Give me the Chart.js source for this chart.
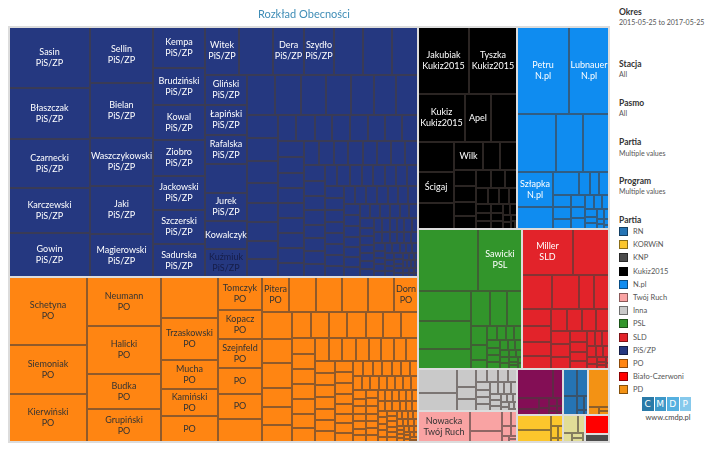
<!DOCTYPE html>
<html>
<head>
<meta charset="utf-8">
<script src="https://cdn.jsdelivr.net/npm/chart.js@4.4.1/dist/chart.umd.min.js"></script>
<style>
  html, body { margin: 0; padding: 0; background: #fff; }
  body { width: 720px; height: 450px; overflow: hidden; position: relative; font-family: Lato, "Open Sans", sans-serif; }
  #tree { position: absolute; left: 0; top: 0; }
  #title { position: absolute; left: 204px; width: 200px; top: 7px; text-align: center; font-size: 11px; color: #3f8db6; }
  .side { position: absolute; left: 619px; line-height: 10px; white-space: nowrap; }
  .hd { font-weight: bold; font-size: 8.5px; color: #333; }
  .vl { font-size: 7px; color: #555; }
  #legend { position: absolute; left: 619px; top: 225px; }
  .lg { height: 13.2px; display: flex; align-items: center; font-size: 7.5px; color: #555; }
  .sw { width: 7px; height: 7px; border: 1px solid rgba(0,0,0,0.45); margin-right: 5px; }
  #logo { position: absolute; left: 642px; top: 397px; display: flex; }
  #logo span { width: 11.5px; height: 14px; margin-right: 1px; color: #fff; font-size: 9px; text-align: center; line-height: 14px; font-family: "DejaVu Sans", sans-serif; }
  #url { position: absolute; left: 642px; width: 52px; top: 413px; text-align: center; font-size: 7.5px; color: #444; }
</style>
</head>
<body>
<canvas id="tree" width="615" height="450"></canvas>
<div id="title">Rozkład Obecności</div>

<div class="side hd" style="top:7px">Okres</div>
<div class="side vl" style="top:17px">2015-05-25 to 2017-05-25</div>
<div class="side hd" style="top:59px">Stacja</div>
<div class="side vl" style="top:69px">All</div>
<div class="side hd" style="top:98px">Pasmo</div>
<div class="side vl" style="top:108px">All</div>
<div class="side hd" style="top:137px">Partia</div>
<div class="side vl" style="top:148px">Multiple values</div>
<div class="side hd" style="top:176px">Program</div>
<div class="side vl" style="top:186px">Multiple values</div>
<div class="side hd" style="top:215px">Partia</div>
<div id="legend"></div>
<div id="logo"><span style="background:#2a7aa8">C</span><span style="background:#3d98c9">M</span><span style="background:#55b0e0">D</span><span style="background:#86c9ec">P</span></div>
<div id="url">www.cmdp.pl</div>

<script>
(function () {
  "use strict";

  /* ── Data ──────────────────────────────────── */

  var pisValues = [494, 413, 397, 365, 352, 351, 347, 302, 296, 271,
    212, 192, 184, 183, 178, 177, 169, 164, 163, 145, 144, 142, 134, 128,
    127, 126, 124, 122, 120, 118, 116, 110, 104, 100, 98, 92, 90, 88,
    72, 72, 66, 62, 59, 57, 56, 56, 48, 47, 46, 46, 45, 44, 44, 43,
    42, 41, 40, 40, 39, 39, 38, 38, 37, 37, 36, 36, 35, 35, 34, 34, 33, 33,
    32, 31, 30, 29, 28, 27, 27, 26, 26, 25, 25, 24, 24, 24, 23, 23, 22, 22, 22,
    21, 21, 21, 20, 20, 19, 19, 19, 18, 18, 18, 17, 17, 17, 16, 16, 16, 15, 15, 15,
    14, 14, 14, 13, 13, 12, 12, 12, 12, 11, 11, 11, 10, 10, 10, 10, 9, 9, 9, 9,
    8, 8, 8, 8, 8, 7, 7, 7, 7, 7, 6, 6, 6, 6, 5, 5, 5, 5, 5, 4, 4, 4, 4, 4,
    3, 3, 3, 3, 3, 3, 2, 2, 2, 2, 2];
  var pisLabels = ["Sasin\nPiS/ZP", "Błaszczak\nPiS/ZP", "Czarnecki\nPiS/ZP", "Karczewski\nPiS/ZP",
    "Gowin\nPiS/ZP", "Sellin\nPiS/ZP", "Bielan\nPiS/ZP", "Waszczykowski\nPiS/ZP", "Jaki\nPiS/ZP",
    "Magierowski\nPiS/ZP", "Kempa\nPiS/ZP", "Brudziński\nPiS/ZP", "Kowal\nPiS/ZP", "Ziobro\nPiS/ZP",
    "Jackowski\nPiS/ZP", "Szczerski\nPiS/ZP", "Sadurska\nPiS/ZP", "Witek\nPiS/ZP", "",
    "Dera\nPiS/ZP", "Szydło\nPiS/ZP", "", "", "", "Gliński\nPiS/ZP", "Łapiński\nPiS/ZP",
    "Rafalska\nPiS/ZP", "", "Jurek\nPiS/ZP", "Kowalczyk", "Kuźmiuk\nPiS/ZP"];

  var poValues = [530, 374, 374, 368, 352, 262, 248, 236, 236, 165, 154, 146,
    145, 128, 123, 114, 110, 101, 97, 94, 93, 93, 92, 86,
    80, 76, 74, 58, 55, 53, 48, 48, 47, 47, 46, 46, 45,
    36, 35, 34, 34, 33, 33, 32, 31, 30, 30, 29, 29, 28, 28, 27,
    24, 24, 23, 23, 22, 22, 22, 20, 19, 19, 18, 18, 17, 17, 16,
    15, 15, 14, 14, 14, 13, 13, 13, 12, 12, 12, 12, 11, 11, 11, 11, 10, 10, 10, 10,
    9, 9, 9, 9, 9, 9, 8, 8, 8, 8, 8, 8, 7, 7, 7, 7, 7, 7, 6, 6, 6, 6, 6, 6, 6,
    5, 5, 5, 5, 5, 5, 5, 4, 4, 4, 4, 4, 4, 4, 3, 3, 3, 3, 3, 3, 3, 3,
    2, 2, 2, 2, 2, 2, 2];
  var poLabels = ["Schetyna\nPO", "Siemoniak\nPO", "Kierwiński\nPO", "Neumann\nPO", "Halicki\nPO",
    "Budka\nPO", "Grupiński\nPO", "", "Trzaskowski\nPO", "Mucha\nPO", "Kamiński\nPO", "PO",
    "Tomczyk\nPO", "Kopacz\nPO", "Szejnfeld\nPO", "PO", "PO", "", "Pitera\nPO", "", "", "", "", "Dorn\nPO"];

  var kukizValues = [338, 324, 220, 127, 122, 110, 109, 94, 81, 49, 48, 36, 34, 31, 29,
    26, 24, 22, 20, 18, 16, 14, 13, 12, 11, 10, 9, 9, 8, 7, 6, 5, 4, 3, 2];
  var kukizLabels = ["Jakubiak\nKukiz2015", "Tyszka\nKukiz2015", "Kukiz\nKukiz2015", "Apel", "", "", "Ścigaj", "", "Wilk"];

  var nplValues = [454, 347, 224, 159, 148, 124, 80, 59, 25, 22, 22, 21, 21, 18, 16,
    15, 14, 12, 11, 10, 9, 8, 7, 6, 5, 4, 3, 3, 2];
  var nplLabels = ["Petru\nN.pl", "Lubnauer\nN.pl", "", "", "", "Szłapka\nN.pl"];

  var pslValues = [365, 271, 160, 144, 105, 70, 59, 53, 31, 25, 15, 13,
    12, 11, 10, 10, 9, 9, 8, 8, 7, 7, 6, 6, 5, 5, 4, 4, 3, 3, 2, 2];
  var pslLabels = ["", "Sawicki\nPSL"];

  var sldValues = [240, 168, 102, 92, 50, 49, 48, 47, 40, 38, 36, 32, 30, 28, 26, 24, 23,
    20, 18, 16, 14, 12, 11, 10, 9, 8, 7, 6, 5, 4, 3, 3, 2, 2];
  var sldLabels = ["Miller\nSLD"];

  var innaValues = [92, 70, 34, 24, 23, 15, 14, 13, 12, 11, 10, 10, 9, 9, 8, 8, 7, 7, 6, 6, 5, 5, 4, 4, 3, 3, 2, 2];
  var ruchValues = [159, 63, 36, 14, 10, 8, 6, 5, 3, 2];
  var ruchLabels = ["Nowacka\nTwój Ruch"];
  var razemValues = [105, 28, 23, 14, 10, 8, 6, 5, 4, 3, 3, 2];
  var korwinValues = [50, 41, 12, 8, 5, 3, 2];
  var rnValues = [40, 30, 27, 9, 6, 3, 2];
  var pdValues = [80, 8, 4, 3];
  var otherValues = [28, 14, 8, 6, 4, 2];
  var bcValues = [46];
  var knpValues = [19];

  var legendNames = ["RN", "KORWiN", "KNP", "Kukiz2015", "N.pl", "Twój Ruch", "Inna",
    "PSL", "SLD", "PiS/ZP", "PO", "Biało-Czerwoni", "PD"];

  var COLORS = {
    "RN": "#2574b4", "KORWiN": "#fcc62c", "KNP": "#4b4b4b", "Kukiz2015": "#000000",
    "N.pl": "#0f8cf0", "Twój Ruch": "#f9a3a3", "Inna": "#c9c9c9", "PSL": "#32952b",
    "SLD": "#e2232a", "PiS/ZP": "#253880", "PO": "#ff8512", "Biało-Czerwoni": "#ff0000",
    "PD": "#f39214", "Razem": "#830e55", "Pozostali": "#e1dd97"
  };
  var DARK_TEXT = { "PO": 1, "Twój Ruch": 1, "Inna": 1, "KORWiN": 1, "PD": 1, "Pozostali": 1 };

  var parties = [
    { name: "PiS/ZP", values: pisValues, labels: pisLabels },
    { name: "PO", values: poValues, labels: poLabels },
    { name: "Kukiz2015", values: kukizValues, labels: kukizLabels },
    { name: "N.pl", values: nplValues, labels: nplLabels },
    { name: "PSL", values: pslValues, labels: pslLabels },
    { name: "SLD", values: sldValues, labels: sldLabels },
    { name: "Inna", values: innaValues, labels: [] },
    { name: "Twój Ruch", values: ruchValues, labels: ruchLabels },
    { name: "Razem", values: razemValues, labels: [] },
    { name: "KORWiN", values: korwinValues, labels: [] },
    { name: "RN", values: rnValues, labels: [] },
    { name: "PD", values: pdValues, labels: [] },
    { name: "Pozostali", values: otherValues, labels: [] },
    { name: "Biało-Czerwoni", values: bcValues, labels: [] },
    { name: "KNP", values: knpValues, labels: [] }
  ];

  var TREE_W = 600, TREE_H = 415;
  var PHI = (1 + Math.sqrt(5)) / 2;

  /* ── Squarified layout (golden ratio) ──────── */

  function squarify(items, x0, y0, x1, y1) {
    var out = [], n = items.length, i0 = 0;
    var value = 0;
    items.forEach(function (it) { value += it.v; });
    while (i0 < n) {
      var dx = x1 - x0, dy = y1 - y0;
      var i1 = i0, sum = items[i1++].v, minV = sum, maxV = sum;
      var alpha = Math.max(dy / dx, dx / dy) / (value * PHI);
      var beta = sum * sum * alpha;
      var minRatio = Math.max(maxV / beta, beta / minV);
      for (; i1 < n; i1++) {
        var v = items[i1].v;
        sum += v;
        if (v < minV) minV = v;
        if (v > maxV) maxV = v;
        beta = sum * sum * alpha;
        var r = Math.max(maxV / beta, beta / minV);
        if (r > minRatio) { sum -= v; break; }
        minRatio = r;
      }
      var row = items.slice(i0, i1);
      if (dx < dy) {
        var yb = i1 >= n ? y1 : y0 + dy * sum / value, x = x0;
        row.forEach(function (it) {
          var w = dx * it.v / sum;
          out.push({ it: it, x0: x, y0: y0, x1: x + w, y1: yb });
          x += w;
        });
        y0 = yb;
      } else {
        var xb = i1 >= n ? x1 : x0 + dx * sum / value, y = y0;
        row.forEach(function (it) {
          var h = dy * it.v / sum;
          out.push({ it: it, x0: x0, y0: y, x1: xb, y1: y + h });
          y += h;
        });
        x0 = xb;
      }
      value -= sum;
      i0 = i1;
    }
    return out;
  }

  function byValue(a, b) { return b.v - a.v; }

  /* ── Treemap plugin ────────────────────────── */

  var treemapPlugin = {
    id: "treemapCells",
    afterDatasetsDraw: function (chart) {
      var ctx = chart.ctx, xs = chart.scales.x, ys = chart.scales.y;
      function px(v) { return Math.round(xs.getPixelForValue(v)); }
      function py(v) { return Math.round(ys.getPixelForValue(v)); }

      var groups = parties.map(function (p) {
        var total = 0;
        var kids = p.values.map(function (v, i) {
          total += v;
          return { v: v, label: p.labels[i] || "", idx: i };
        }).sort(byValue);
        return { v: total, party: p, kids: kids };
      }).sort(byValue);

      var top = squarify(groups, xs.min, ys.min, xs.max, ys.max);

      ctx.save();
      var labels = [];
      top.forEach(function (g) {
        var party = g.it.party;
        var color = COLORS[party.name];
        var cells = squarify(g.it.kids, g.x0, g.y0, g.x1, g.y1);
        cells.forEach(function (c) {
          var X0 = px(c.x0), X1 = px(c.x1), Y0 = py(c.y0), Y1 = py(c.y1);
          ctx.fillStyle = color;
          ctx.fillRect(X0, Y0, X1 - X0, Y1 - Y0);
          ctx.strokeStyle = "rgba(72, 62, 58, 0.6)";
          ctx.lineWidth = 1;
          ctx.strokeRect(X0 + 0.5, Y0 + 0.5, X1 - X0 - 1, Y1 - Y0 - 1);
          if (c.it.label) {
            labels.push({
              text: c.it.label, cx: (X0 + X1) / 2, cy: (Y0 + Y1) / 2,
              color: c.it.label.indexOf("Kuźmiuk") === 0 ? "#161d48" : (DARK_TEXT[party.name] ? "#333333" : "#ffffff")
            });
          }
        });
      });

      // party separators
      top.forEach(function (g) {
        var X0 = px(g.x0), X1 = px(g.x1), Y0 = py(g.y0), Y1 = py(g.y1);
        ctx.strokeStyle = "#dcdcdc";
        ctx.lineWidth = 2;
        ctx.strokeRect(X0, Y0, X1 - X0, Y1 - Y0);
      });

      ctx.font = "9px Lato, 'Open Sans', sans-serif";
      ctx.textAlign = "center";
      ctx.textBaseline = "middle";
      labels.forEach(function (l) {
        var lines = l.text.split("\n");
        var lh = 11;
        var y = l.cy - (lines.length - 1) * lh / 2;
        ctx.fillStyle = l.color;
        lines.forEach(function (t, i) { ctx.fillText(t, l.cx, y + i * lh); });
      });
      ctx.restore();
    }
  };

  /* ── Legend ────────────────────────────────── */

  function renderLegend() {
    var el = document.getElementById("legend");
    var html = "";
    legendNames.forEach(function (n) {
      html += '<div class="lg"><span class="sw" style="background:' + COLORS[n] + '"></span>' + n + '</div>';
    });
    el.innerHTML = html;
  }

  /* ── Init ─────────────────────────────────── */

  function init() {
    renderLegend();
    new Chart(document.getElementById("tree"), {
      type: "scatter",
      data: { datasets: [{ data: [] }] },
      options: {
        responsive: false,
        animation: false,
        layout: { padding: { left: 9, top: 27, right: 6, bottom: 8 } },
        scales: {
          x: { type: "linear", min: 0, max: TREE_W, display: false },
          y: { type: "linear", min: 0, max: TREE_H, reverse: true, display: false }
        },
        plugins: { legend: { display: false }, tooltip: { enabled: false } }
      },
      plugins: [treemapPlugin]
    });
  }

  init();
})();
</script>
</body>
</html>
